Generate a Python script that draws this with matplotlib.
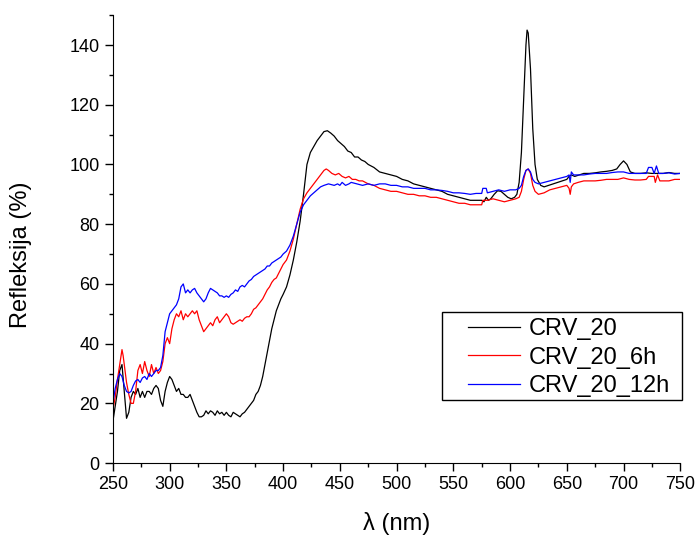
import matplotlib.pyplot as plt
from matplotlib.patches import Rectangle
from matplotlib.ticker import MultipleLocator

plt.rcParams['font.family'] = ['Liberation Sans', 'DejaVu Sans']

# CRV_20 (black)
wl_20 = [250, 252, 254, 256, 258, 260, 262, 264, 266, 268, 270, 272, 274, 276, 278, 280,
         282, 284, 286, 288, 290, 292, 294, 296, 298, 300, 302, 304, 306, 308, 310, 312,
         314, 316, 318, 320, 322, 324, 326, 328, 330, 332, 334, 336, 338, 340, 342, 344,
         346, 348, 350, 352, 354, 356, 358, 360, 362, 364, 366, 368, 370, 372, 374, 376,
         378, 380, 382, 384, 386, 388, 390, 392, 394, 396, 398, 400, 403, 406, 409, 412,
         415, 418, 421, 424, 427, 430, 433, 436, 439, 442, 445, 448, 451, 454, 457, 460,
         463, 466, 469, 472, 475, 480, 485, 490, 495, 500, 505, 510, 515, 520, 525, 530,
         535, 540, 545, 550, 555, 560, 565, 570, 575, 577, 579, 581, 583, 586, 589, 592,
         595, 598, 601, 604, 606, 608, 610, 612, 614, 615, 616, 618, 620, 622, 624, 627,
         630, 634, 638, 642, 646, 650, 652, 654, 657, 661, 665, 670, 675, 680, 685, 690,
         694, 697, 700, 703, 706, 710, 715, 720, 725, 730, 735, 740, 745, 750]
r_20 = [14, 19, 24, 31, 33, 24, 15, 17, 22, 24, 23, 25, 22, 24, 22, 24,
        24, 23, 25, 26, 25, 21, 19, 24, 27, 29, 28, 26, 24, 25, 23, 23,
        22, 22, 23, 21, 19, 17, 15.5, 15.5, 16, 17.5, 16.5, 17.5, 17, 16, 17.5, 16.5,
        17, 16, 17, 16, 15.5, 17, 16.5, 16, 15.5, 16.5, 17, 18, 19, 20, 21, 23,
        24, 26, 29, 33, 37, 41, 45, 48, 51, 53, 55, 56.5, 59, 63, 68, 74,
        81, 90, 100, 104, 106, 108, 109.5, 111, 111.3, 110.5, 109.5, 108, 107, 106, 104.5, 104,
        102.5, 102.5, 101.5, 101, 100, 99, 97.5, 97, 96.5, 96, 95, 94.5, 93.5, 93, 92.5, 92,
        91.5, 91, 90, 89.5, 89, 88.5, 88, 88, 88, 87.5, 89, 88, 88.5, 90, 91.2, 91,
        90, 89, 88.5, 89, 90, 94, 104, 122, 140, 145, 144, 132, 112, 100, 95, 93,
        92.5, 93, 93.5, 94, 94.5, 95, 96, 96.5, 96, 96.5, 97, 97, 97.2, 97.5, 97.7, 98,
        98.5, 100, 101.2, 100, 97.5, 97, 97, 97.2, 97, 97, 97, 97.3, 97, 97]

# CRV_20_6h (red)
wl_6h = [250, 252, 254, 256, 258, 259, 260, 262, 264, 266, 268, 270, 272, 274, 276, 278,
         280, 282, 284, 286, 288, 290, 292, 294, 296, 298, 300, 302, 304, 306, 308, 310,
         312, 314, 316, 318, 320, 322, 324, 326, 328, 330, 332, 334, 336, 338, 340, 342,
         344, 346, 348, 350, 352, 354, 356, 358, 360, 362, 364, 366, 368, 370, 372, 374,
         376, 378, 380, 382, 384, 386, 388, 390, 392, 394, 396, 398, 400, 403, 406, 409,
         412, 415, 418, 421, 424, 427, 430, 433, 436, 438, 440, 443, 446, 449, 452, 455,
         458, 461, 464, 467, 470, 475, 480, 485, 490, 495, 500, 505, 510, 515, 520, 525,
         530, 535, 540, 545, 550, 555, 560, 565, 570, 575, 576, 580, 585, 590, 595, 600,
         605, 608, 610, 612, 614, 616, 618, 620, 622, 625, 630, 635, 640, 645, 650, 652,
         653, 654, 656, 660, 665, 670, 675, 680, 685, 690, 695, 700, 705, 710, 715, 720,
         722, 727, 728, 730, 732, 735, 740, 745, 750]
r_6h = [18, 22, 28, 33, 38, 36, 33, 27, 23, 20, 20, 24, 31, 33, 30, 34,
        31, 29, 33, 30, 32, 30, 31, 34, 40, 42, 40, 45, 48, 50, 49, 51,
        48, 50, 49, 50, 51, 50, 51, 48, 46, 44, 45, 46, 47, 46, 48, 49,
        47, 48, 49, 50, 49, 47, 46.5, 47, 47.5, 48, 47.5, 48.5, 49, 49, 50, 51.5,
        52, 53, 54, 55, 56.5, 58, 59, 60.5, 61.5, 62, 63.5, 65, 66.5, 68, 71, 75,
        80, 85, 88.5, 90.5, 92, 93.5, 95, 96.5, 98, 98.5, 98, 97, 96.5, 97, 96, 95.5,
        96, 95, 95, 94.5, 94.5, 93.5, 93, 92, 91.5, 91, 91, 90.5, 90, 90, 89.5, 89.5,
        89, 89, 88.5, 88, 87.5, 87, 87, 86.5, 86.5, 86.5, 88, 88, 88.5, 88, 87.5, 88,
        88.5, 89, 91, 95, 98, 98.5, 97, 93, 91, 90, 90.5, 91.5, 92, 92.5, 93, 92,
        90, 92.5, 93.5, 94, 94.5, 94.5, 94.5, 94.7, 95, 95, 95, 95.5, 95, 94.8, 94.8, 95,
        96, 96, 94, 96.5, 94.5, 94.5, 94.5, 95, 95]

# CRV_20_12h (blue)
wl_12h = [250, 252, 254, 256, 258, 260, 262, 264, 266, 268, 270, 272, 274, 276, 278, 280,
          282, 284, 286, 288, 290, 292, 294, 296, 298, 300, 302, 304, 306, 308, 310, 312,
          314, 316, 318, 320, 322, 324, 326, 328, 330, 332, 334, 336, 338, 340, 342, 344,
          346, 348, 350, 352, 354, 356, 358, 360, 362, 364, 366, 368, 370, 372, 374, 376,
          378, 380, 382, 384, 386, 388, 390, 392, 394, 396, 398, 400, 403, 406, 409, 412,
          415, 418, 421, 424, 427, 430, 433, 436, 440, 445, 448, 450, 452, 455, 458, 460,
          465, 470, 475, 480, 485, 490, 495, 500, 505, 510, 515, 520, 525, 530, 535, 540,
          545, 550, 555, 560, 565, 570, 575, 576, 579, 580, 585, 590, 595, 600, 605, 608,
          610, 612, 614, 616, 618, 620, 622, 625, 630, 635, 640, 645, 650, 652, 653, 654,
          656, 660, 665, 670, 675, 680, 685, 690, 695, 700, 705, 710, 715, 720, 722, 725,
          727, 729, 731, 735, 740, 745, 750]
r_12h = [20, 25, 28, 30, 29, 26, 24, 23.5, 24, 26, 27.5, 28, 27, 28.5, 29, 28,
         30, 29, 30, 31, 31, 32, 36, 44, 47, 50, 51, 52, 53, 55, 59, 60,
         57, 58, 57, 58, 58.5, 57, 56, 55, 54, 55, 57, 58.5, 58, 57.5, 57, 56,
         56, 55.5, 56, 55.5, 56.5, 57, 58, 57.5, 59, 59.5, 59, 60, 61, 61.5, 62.5, 63,
         63.5, 64, 64.5, 65, 66, 66, 67, 67.5, 68, 68.5, 69, 70, 71, 73, 76, 80,
         84, 86.5, 88, 89.5, 90.5, 91.5, 92.5, 93, 93.5, 93, 93.5, 93, 94, 93, 93.5, 94,
         93.5, 93, 93.5, 93, 93.5, 93.5, 93, 93, 92.5, 92.5, 92, 92, 92, 91.5, 91.5, 91.3,
         91, 90.5, 90.5, 90.3, 90, 90.3, 90.3, 92, 92, 90.5, 91, 91.5, 91, 91.5, 91.5, 92,
         93, 96, 98, 98.5, 97.5, 95, 94, 93.5, 94, 94.5, 95, 95.5, 96, 96.5, 94, 97.5,
         96.5, 96.5, 96.5, 96.8, 97, 97, 97, 97.3, 97.5, 97.5, 97, 97, 97, 97, 99, 99,
         97, 99.5, 97, 97, 97.2, 96.8, 97]

fig = plt.figure(figsize=(6.97, 5.41), dpi=100)
ax = fig.add_axes([0.162, 0.144, 0.814, 0.828])

ax.plot(wl_20, r_20, color='black', lw=0.9, label='CRV_20')
ax.plot(wl_6h, r_6h, color='red', lw=0.9, label='CRV_20_6h')
ax.plot(wl_12h, r_12h, color='blue', lw=0.9, label='CRV_20_12h')

ax.set_xlim(250, 750)
ax.set_ylim(0, 150)
ax.xaxis.set_major_locator(MultipleLocator(50))
ax.xaxis.set_minor_locator(MultipleLocator(25))
ax.yaxis.set_major_locator(MultipleLocator(20))
ax.yaxis.set_minor_locator(MultipleLocator(10))
ax.spines['top'].set_visible(False)
ax.spines['right'].set_visible(False)
ax.tick_params(which='major', direction='out', length=6, width=1, labelsize=13)
ax.tick_params(which='minor', direction='out', length=3, width=1)

ax.set_xlabel('λ (nm)', fontsize=17)
ax.set_ylabel('Refleksija (%)', fontsize=17)
ax.xaxis.set_label_coords(0.5, -0.11)
ax.yaxis.set_label_coords(-0.143, 0.464)

# legend text without frame, plus a box drawn like the original
leg = ax.legend(loc='upper left', bbox_to_anchor=(0.626, 0.324), fontsize=17,
                frameon=False, borderaxespad=0, borderpad=0,
                handlelength=2.2, handletextpad=0.35, labelspacing=0.28)
box = Rectangle((0.580, 0.1406), 0.4235, 0.1964, transform=ax.transAxes,
                fill=False, edgecolor='black', linewidth=1, clip_on=False)
ax.add_patch(box)

plt.savefig('out.png', dpi=100)
